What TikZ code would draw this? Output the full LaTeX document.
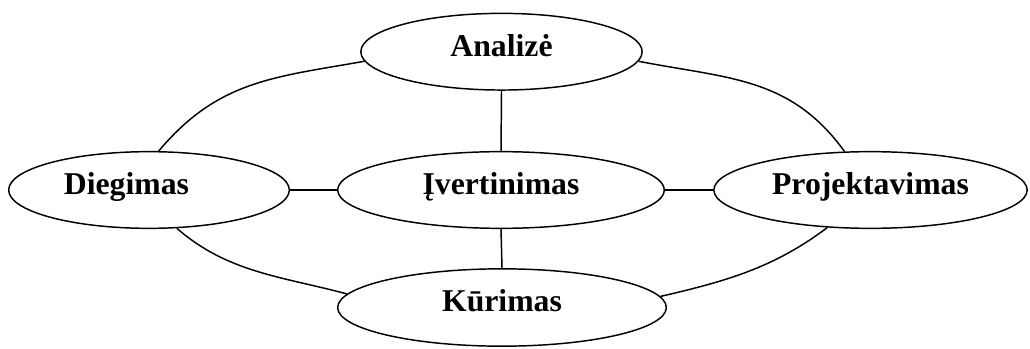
\documentclass[tikz,border=0pt]{standalone}
\usepackage{fontspec}
\setmainfont{Liberation Serif}
\usetikzlibrary{shapes.geometric}
\begin{document}
\begin{tikzpicture}[x=0.75pt,y=-0.75pt,
  phasefont/.style={font=\fontsize{23.8pt}{26pt}\selectfont\bfseries,
    text height=0.66em,text depth=0pt},
  phase/.style={ellipse,draw,line width=1.1pt,inner sep=0pt,
    minimum height=57.5pt,phasefont},
  link/.style={line width=1.1pt}]
\useasboundingbox (0,0) rectangle (1030,349);
% the five phases
\node[phase,minimum width=211pt] (ana) at (501.5,51.7) {Analizė};
\node[phase,minimum width=210.5pt,
  label={[phasefont,inner sep=0pt,xshift=-16.9pt]center:Diegimas}] (dieg) at (149,190) {};
\node[phase,minimum width=245pt] (ivert) at (501,190) {Įvertinimas};
\node[phase,minimum width=235pt] (proj) at (870.5,190) {Projektavimas};
\node[phase,minimum width=246.5pt,minimum height=58pt] (kur) at (502,307.5) {Kūrimas};
% spokes to the centre
\draw[link] (ana.south) -- (ivert.north);
\draw[link] (ivert.south) -- (kur.north);
\draw[link] (dieg.east) -- (ivert.west);
\draw[link] (ivert.east) -- (proj.west);
% outer cycle
\draw[link] (ana.184.3) to[out=190,in=50,looseness=1.05] (dieg.76);
\draw[link] (ana.-4.3) to[out=-11,in=126,looseness=1.05] (proj.124.5);
\draw[link] (dieg.-54) to[out=-41,in=165,looseness=0.95] (kur.175.4);
\draw[link] (kur.4.6) to[out=13,in=217,looseness=0.95] (proj.221.9);
\end{tikzpicture}
\end{document}
